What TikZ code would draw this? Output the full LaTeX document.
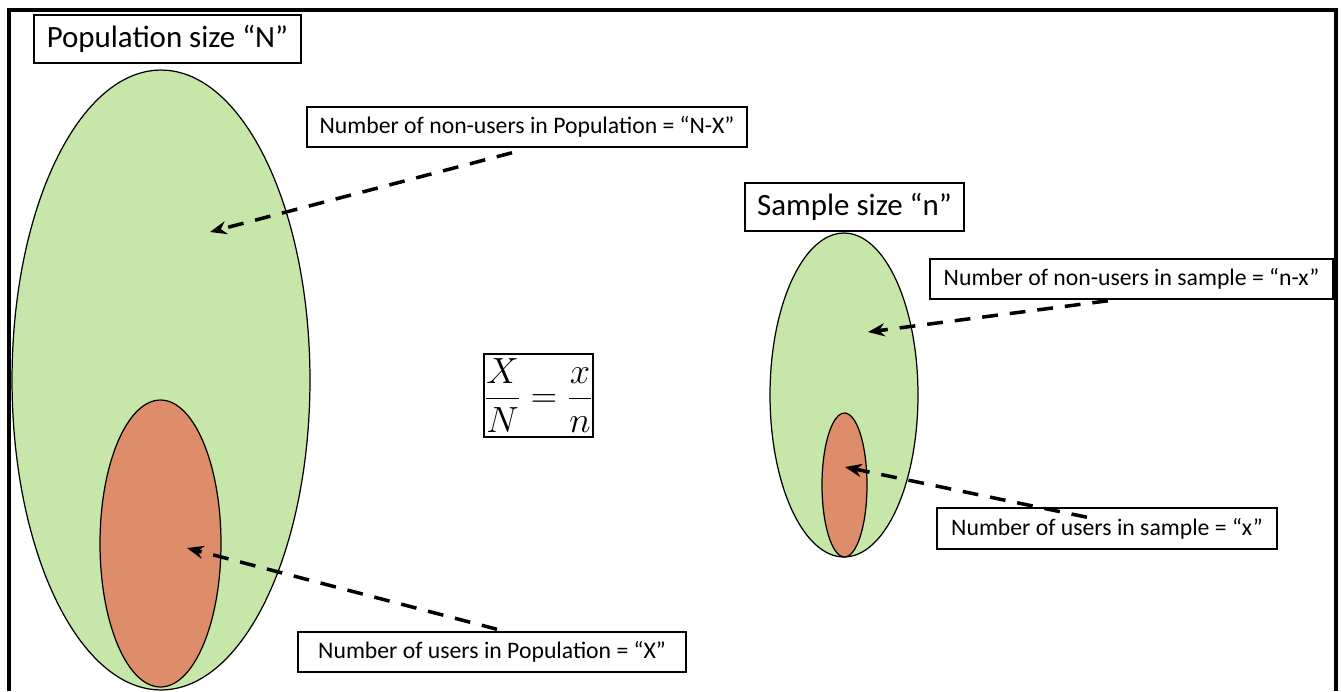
\documentclass[tikz,border=0pt]{standalone}
\usepackage{amsmath}
\usepackage{fontspec}
\setmainfont{Carlito}
\usetikzlibrary{arrows.meta, shapes.geometric}

\definecolor{setgreen}{RGB}{199,230,169}
\definecolor{setorange}{RGB}{221,141,106}

\begin{document}
\begin{tikzpicture}[
    x=0.02cm, y=-0.02cm,
    >={Stealth[length=9.5pt, width=7.5pt]},
    titlebox/.style={
        rectangle, draw=black, line width=0.85pt, fill=white,
        inner sep=0pt, minimum height=9.6mm,
        font=\fontsize{17.6pt}{20pt}\selectfont
    },
    tagbox/.style={
        rectangle, draw=black, line width=0.85pt, fill=white,
        inner sep=0pt, minimum height=8mm,
        font=\fontsize{13.5pt}{16pt}\selectfont
    },
    whole/.style={
        ellipse, draw=black, line width=0.7pt, fill=setgreen, inner sep=0pt
    },
    part/.style={
        ellipse, draw=black, line width=0.7pt, fill=setorange, inner sep=0pt
    },
    pointer/.style={
        ->, line width=2pt, dash pattern=on 9pt off 6.8pt
    }
]
\useasboundingbox (0,0) rectangle (1341,691);

% ============ FRAME ============
\draw[line width=2.3pt] (9,691) -- (9,10) -- (1336,10) -- (1336,691);

% ============ POPULATION (left) ============
\node[whole, minimum width=5.96cm, minimum height=12.4cm] (popall) at (161,380) {};
\node[part, minimum width=2.42cm, minimum height=5.74cm] (popusr) at (160.5,543.5) {};
\node[titlebox, minimum width=5.34cm] (poptitle) at (167.5,39) {Population size “N”};

\node[tagbox, minimum width=8.8cm] (popnon) at (527,127)
    {Number of non-users in Population = “N-X”};
\node[tagbox, minimum width=7.76cm] (popyes) at (492,652)
    {Number of users in Population = “X”};

% ============ RATIO ============
\node[draw=black, line width=0.85pt, inner sep=0pt,
      minimum width=2.1cm, minimum height=1.66cm,
      font=\fontsize{20pt}{24pt}\selectfont] (ratio) at (538.5,395.5)
    {$\displaystyle\frac{X}{N}=\frac{x}{n}$};

% ============ SAMPLE (right) ============
\node[whole, minimum width=2.96cm, minimum height=6.48cm] (smpall) at (844,395) {};
\node[part, minimum width=0.9cm, minimum height=2.88cm] (smpusr) at (844.5,485) {};
\node[titlebox, minimum width=4.38cm] (smptitle) at (854.5,207) {Sample size “n”};

\node[tagbox, minimum width=8.06cm] (smpnon) at (1131.5,279)
    {Number of non-users in sample = “n-x”};
\node[tagbox, minimum width=6.8cm, minimum height=8.2mm] (smpyes) at (1107,528.5)
    {Number of users in sample = “x”};

% ============ POINTERS ============
\coordinate (popnontip) at (210,232);
\coordinate (popyestip) at (187,548);
\coordinate (smpnontip) at (868,332);
\coordinate (smpyestip) at (845,467);

\draw[pointer] ([xshift=-0.3cm, yshift=-0.1cm]popnon.south) -- (popnontip);
\draw[pointer] ([xshift=0.1cm, yshift=0.04cm]popyes.north) -- (popyestip);
\draw[pointer] ([xshift=-0.47cm, yshift=-0.02cm]smpnon.south) -- (smpnontip);
\draw[pointer] ([xshift=-0.4cm, yshift=-0.2cm]smpyes.north) -- (smpyestip);

\end{tikzpicture}
\end{document}
